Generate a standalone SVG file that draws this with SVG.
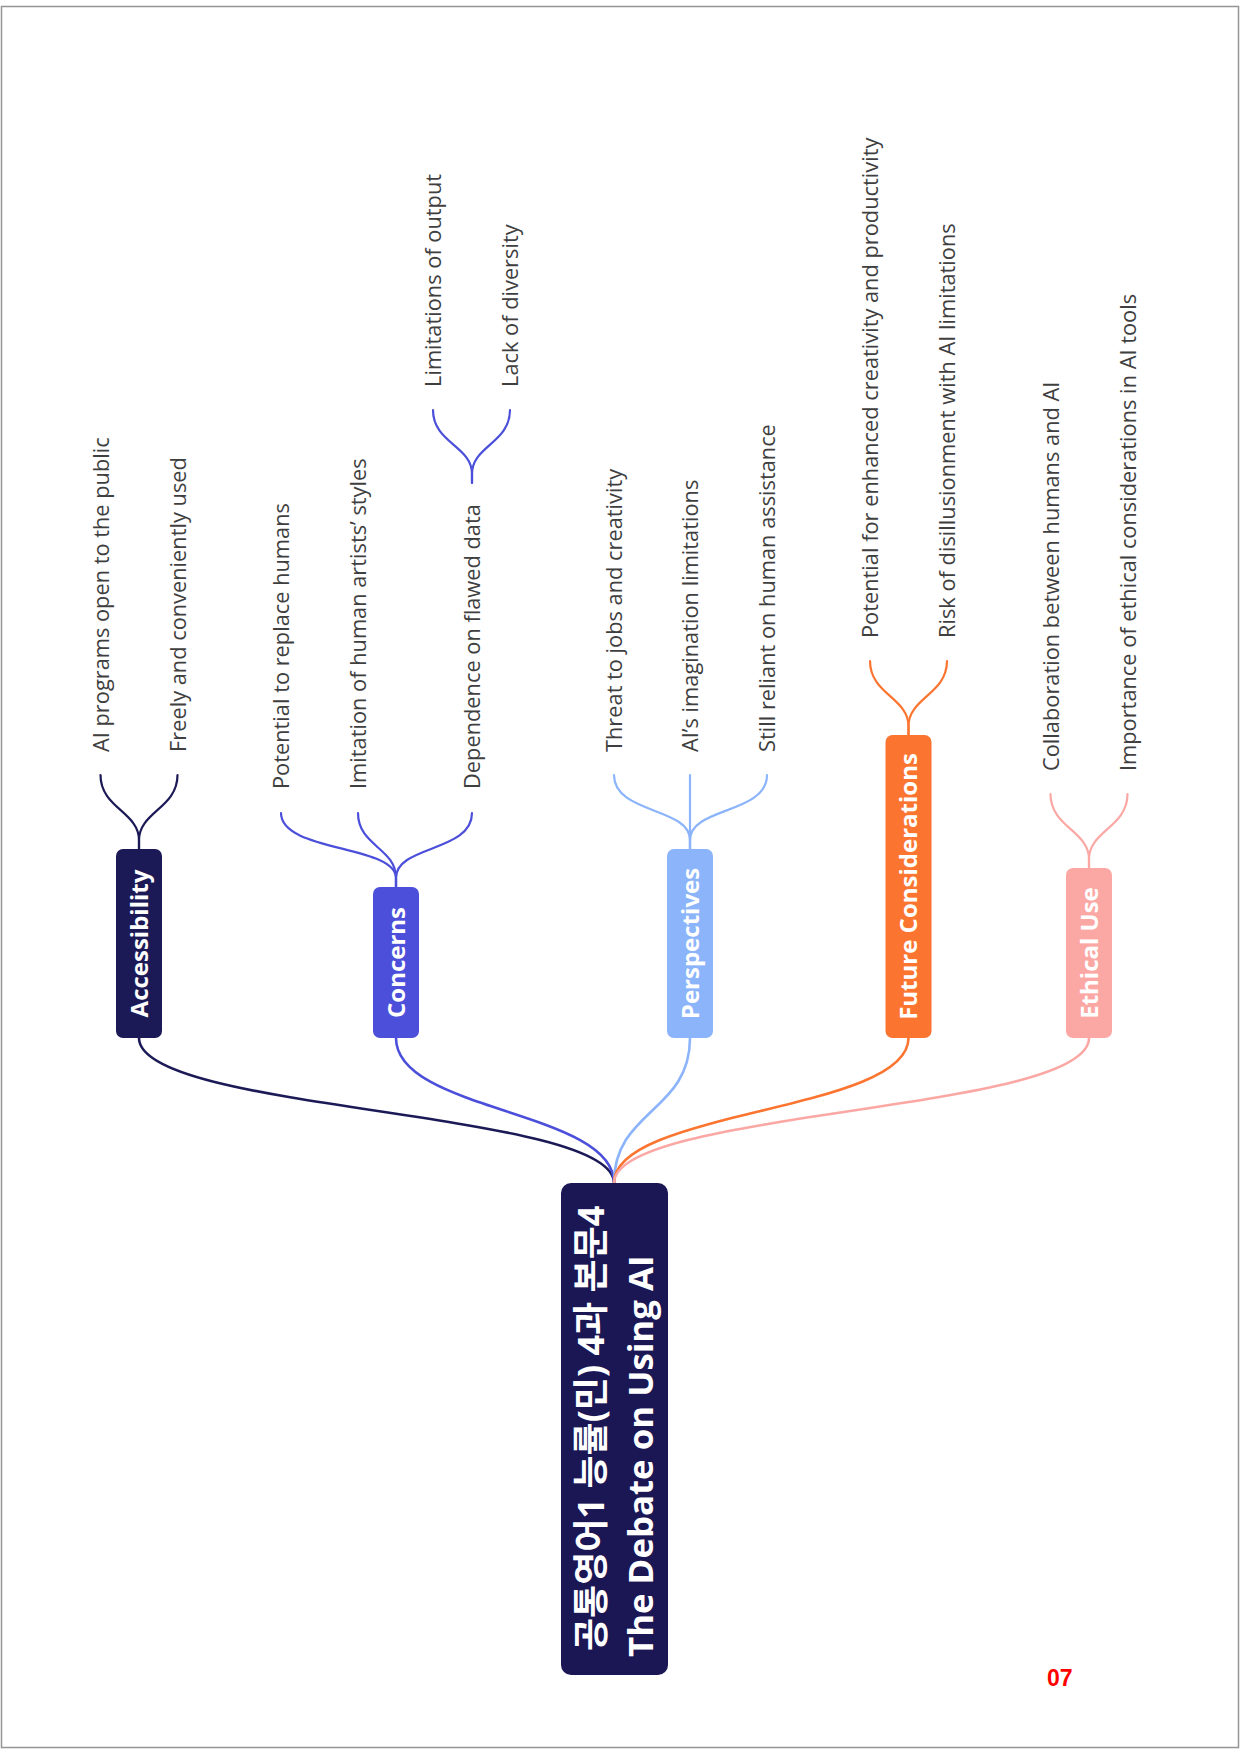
<svg xmlns="http://www.w3.org/2000/svg" width="1240" height="1754" viewBox="0 0 1240 1754">
<style>
.t{font-family:"Open Sans","Noto Sans",sans-serif;font-size:21.8px;fill:#3f3f3f}
.b{font-family:"Open Sans","Noto Sans",sans-serif;font-size:24px;font-weight:700;fill:#ffffff;text-anchor:middle}
.r{font-family:"Open Sans","Noto Sans CJK KR",sans-serif;font-weight:700;fill:#ffffff}
.c{fill:none;stroke-width:2.2;stroke-linecap:round}
.m{fill:none;stroke-width:2.6;stroke-linecap:round}
.navy{stroke:#1c1a56}
.blue{stroke:#4b4fd9}
.lblue{stroke:#8cb4fa}
.orange{stroke:#fb7530}
.pink{stroke:#fba8a5}
</style>
<rect x="0" y="0" width="1240" height="1754" fill="#ffffff"/>
<rect x="1.5" y="6.5" width="1237" height="1741" fill="none" stroke="#959595" stroke-width="1.5"/>

<g id="connectors">
  <path class="m navy" d="M139,1038 C139,1112 614,1110 614,1183"/>
  <path class="m blue" d="M396,1038 C396,1112 614,1110 614,1183"/>
  <path class="m lblue" d="M690,1038 C690,1112 614,1110 614,1183"/>
  <path class="m orange" d="M908.5,1038 C908.5,1112 614,1110 614,1183"/>
  <path class="m pink" d="M1089,1038 C1089,1112 614,1110 614,1183"/>

  <path class="c navy" d="M139,849 L139,840 C139,812 100.5,808 100.5,775"/>
  <path class="c navy" d="M139,849 L139,840 C139,812 177.5,808 177.5,775"/>

  <path class="c blue" d="M396,887 L396,878 C396,845 281,852 281,813"/>
  <path class="c blue" d="M396,887 L396,878 C396,848 358,846 358,813"/>
  <path class="c blue" d="M396,887 L396,878 C396,845 472,852 472,813"/>

  <path class="c blue" d="M472,483 L472,474 C472,446 433,443 433,410"/>
  <path class="c blue" d="M472,483 L472,474 C472,446 510,443 510,410"/>

  <path class="c lblue" d="M690,849 L690,840 C690,807 614,814 614,775"/>
  <path class="c lblue" d="M690,849 L690,775"/>
  <path class="c lblue" d="M690,849 L690,840 C690,807 767,814 767,775"/>

  <path class="c orange" d="M908.5,735 L908.5,726 C908.5,698 870,694 870,661"/>
  <path class="c orange" d="M908.5,735 L908.5,726 C908.5,698 947,694 947,661"/>

  <path class="c pink" d="M1089,868 L1089,859 C1089,831 1050.5,827 1050.5,794"/>
  <path class="c pink" d="M1089,868 L1089,859 C1089,831 1127.5,827 1127.5,794"/>
</g>

<g id="root">
  <rect x="561" y="1183" width="107" height="492" rx="10" fill="#1b1755"/>
  <text class="r" font-size="36" transform="translate(604,1651) rotate(-90)">공통영어1 능률(민) 4과 본문4</text>
  <text class="r" font-size="34.8" transform="translate(653,1657) rotate(-90)">The Debate on Using AI</text>
</g>

<g id="accessibility">
  <rect x="116" y="849" width="46" height="189" rx="7" fill="#1c1a56"/>
  <text class="b" transform="translate(147.5,943.5) rotate(-90)">Accessibility</text>
</g>
<g id="concerns">
  <rect x="373" y="887" width="46" height="151" rx="7" fill="#4b4fd9"/>
  <text class="b" transform="translate(404.5,962.5) rotate(-90)">Concerns</text>
</g>
<g id="perspectives">
  <rect x="667" y="849" width="46" height="189" rx="7" fill="#8cb4fa"/>
  <text class="b" transform="translate(698.5,943.5) rotate(-90)">Perspectives</text>
</g>
<g id="future">
  <rect x="885.5" y="735" width="46" height="303" rx="7" fill="#fb7530"/>
  <text class="b" transform="translate(917,886.5) rotate(-90)">Future Considerations</text>
</g>
<g id="ethical">
  <rect x="1066" y="868" width="46" height="170" rx="7" fill="#fba8a5"/>
  <text class="b" transform="translate(1097.5,953) rotate(-90)">Ethical Use</text>
</g>

<g id="acc-1"><text class="t" transform="translate(108.5,752) rotate(-90)">AI programs open to the public</text></g>
<g id="acc-2"><text class="t" transform="translate(185.5,752) rotate(-90)">Freely and conveniently used</text></g>

<g id="con-1"><text class="t" transform="translate(289,789) rotate(-90)">Potential to replace humans</text></g>
<g id="con-2"><text class="t" transform="translate(366,789) rotate(-90)">Imitation of human artists’ styles</text></g>
<g id="con-3"><text class="t" transform="translate(480,789) rotate(-90)">Dependence on flawed data</text></g>
<g id="con-3-1"><text class="t" transform="translate(441,387) rotate(-90)">Limitations of output</text></g>
<g id="con-3-2"><text class="t" transform="translate(518,387) rotate(-90)">Lack of diversity</text></g>

<g id="per-1"><text class="t" transform="translate(622,752) rotate(-90)">Threat to jobs and creativity</text></g>
<g id="per-2"><text class="t" transform="translate(698,752) rotate(-90)">AI’s imagination limitations</text></g>
<g id="per-3"><text class="t" transform="translate(775,752) rotate(-90)">Still reliant on human assistance</text></g>

<g id="fut-1"><text class="t" transform="translate(878,638) rotate(-90)">Potential for enhanced creativity and productivity</text></g>
<g id="fut-2"><text class="t" transform="translate(955,638) rotate(-90)">Risk of disillusionment with AI limitations</text></g>

<g id="eth-1"><text class="t" transform="translate(1058.5,771) rotate(-90)">Collaboration between humans and AI</text></g>
<g id="eth-2"><text class="t" transform="translate(1135.5,771) rotate(-90)">Importance of ethical considerations in AI tools</text></g>

<text x="1047" y="1686" font-family="'Liberation Sans',Arial,sans-serif" font-size="23" font-weight="700" fill="#ff0000">07</text>
</svg>
